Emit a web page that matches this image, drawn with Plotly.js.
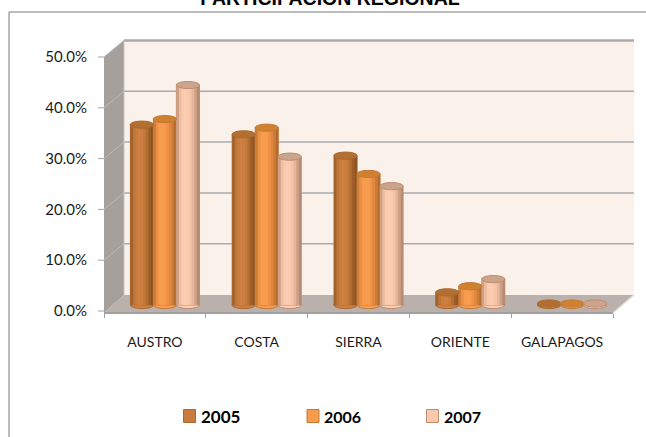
<!DOCTYPE html>
<html><head><meta charset="utf-8">
<script src="https://cdn.plot.ly/plotly-3.0.1.min.js"></script>
<style>html,body{margin:0;padding:0;background:#fff}#c{width:646px;height:437px}</style>
</head><body><div id="c"></div>
<script>
var categories = ['AUSTRO','COSTA','SIERRA','ORIENTE','GALAPAGOS'];
var years = ['2005','2006','2007'];
var v2005 = [35.5, 33.6, 29.4, 2.5, 0.3];
var v2006 = [36.6, 34.9, 25.8, 3.7, 0.3];
var v2007 = [43.3, 29.2, 23.4, 5.1, 0.3];
var yTicks = [0,10,20,30,40,50];

var W=646,H=437,L=104,R=613,T=57,B=313;
var px=function(x){return (x-L)/(R-L);};
var py=function(y){return (B-y)/(B-T);};
var catW=(R-L)/5, barW=23/catW, groupOff=-24.5/catW;
var values=[v2005,v2006,v2007];
var base=['#C97B3D','#F79B4C','#FBC9AD'];
var edge=['#A9692F','#C27A38','#C08C6C'];
var cap=['#B36F30','#D0812F','#CBA48E'];
var strips=[
 ['#A1622B','#BC7536','#CB7D3F','#CF8145','#CD7F40','#C4793A','#B26D31','#9C5D28','#8E5323'],
 ['#CC7D38','#EB9146','#F79B4C','#F99E50','#F79B4C','#EE9247','#E0883F','#CC7C36','#B46C2E'],
 ['#D0A187','#EDBDA2','#FACAAE','#FCCDB2','#FBCBB0','#F4C3A8','#E6B59B','#CFA088','#B78B72']
];
var traces=[],shapes=[],annotations=[];
function poly(pts,fill,line,lw){
  var d=pts.map(function(p,i){return (i?'L':'M')+px(p[0])+' '+py(p[1]);}).join(' ')+' Z';
  shapes.push({type:'path',xref:'paper',yref:'paper',path:d,fillcolor:fill,line:{color:line||fill,width:lw||0},layer:'below'});
}
function seg(x0,y0,x1,y1,c,w){
  shapes.push({type:'line',xref:'paper',yref:'paper',x0:px(x0),y0:py(y0),x1:px(x1),y1:py(y1),line:{color:c,width:w},layer:'below'});
}
// chart frame
seg(9,12,646,12,'#A6A6A6',1.5);
seg(9,12,9,437,'#A6A6A6',1.5);
// walls
poly([[124,40],[634,40],[634,295],[124,295]],'#FBF1EB');
poly([[104,57],[124,40],[124,295],[104,313]],'#A5A09C');
poly([[104,313],[124,295],[634,295],[613,313]],'#BBB1AC');
yTicks.forEach(function(t){
  var yb=294.5-t*5.08, yf=311-t*5.08;
  if(t>0) seg(104,yf,124,yb,'#BDB9B5',1);
  if(t>0) seg(124,yb,634,yb,'#ABABAB',t==50?2.5:1.5);
});
seg(124,40,124,295,'#C9C5C2',1);
seg(104,313,613,313,'#A0A0A0',2);
seg(613,313,634,295,'#E4E0DD',1.5);
yTicks.forEach(function(t){ seg(98,311-t*5.08,104,311-t*5.08,'#A0A0A0',1); });

// keeps the visible percentage axis attached to the plot
traces.push({type:'scatter',x:categories,y:v2005,mode:'none',showlegend:false,hoverinfo:'skip'});

values.forEach(function(vals,s){
  var off=groupOff+s*barW;
  traces.push({type:'bar',x:categories,y:vals,yaxis:'y2',name:years[s],width:barW,offset:off,
    marker:{color:base[s],line:{color:edge[s],width:1}},hoverinfo:'x+y',showlegend:false});
  var n=strips[s].length;
  strips[s].forEach(function(c,k){
    traces.push({type:'bar',x:categories,y:vals,yaxis:'y2',width:barW/n*1.06,offset:off+k*barW/n,
      marker:{color:c,line:{width:0}},hoverinfo:'skip',showlegend:false});
  });
  vals.forEach(function(v,i){
    var x0=i+off-0.002, x1=i+off+barW+0.002, h=3.6/5.08;
    shapes.push({type:'circle',xref:'x',yref:'y2',x0:x0,x1:x1,y0:-h,y1:h,fillcolor:strips[s][3],line:{color:edge[s],width:1},layer:'below'});
    shapes.push({type:'circle',xref:'x',yref:'y2',x0:x0,x1:x1,y0:v-h,y1:v+h,fillcolor:cap[s],line:{color:edge[s],width:1},layer:'above'});
  });
});

// legend keys and labels
var keyX=[183.5,307,426.5], textX=[200,323,443], keySize=[17,16,16];
years.forEach(function(y,s){
  shapes.push({type:'rect',xref:'paper',yref:'paper',x0:px(keyX[s]),x1:px(keyX[s]+12),y0:py(409.5),y1:py(422.5),
    fillcolor:base[s],line:{color:edge[s],width:1},layer:'above'});
  annotations.push({xref:'paper',yref:'paper',x:px(textX[s]),y:py(416),xanchor:'left',yanchor:'middle',showarrow:false,
    text:'<b>'+y+'</b>',xshift:-1,font:{family:'Lato',size:keySize[s],color:'#000'}});
});

var layout={
  width:W,height:H,autosize:false,paper_bgcolor:'#fff',plot_bgcolor:'rgba(0,0,0,0)',
  margin:{l:L,r:W-R,t:T,b:H-B,pad:0},
  barmode:'overlay',showlegend:false,
  title:{text:'PARTICIPACION REGIONAL',font:{family:'Liberation Sans',size:19.5,color:'#000',weight:700},
    x:330/W,xanchor:'center',y:1-5/H,yanchor:'bottom',yref:'container'},
  font:{family:'Lato',color:'#1a1a1a',size:14},
  xaxis:{type:'category',categories:categories,categoryorder:'array',categoryarray:categories,range:[-0.5,4.5],
    tickson:'boundaries',ticks:'outside',ticklen:4,tickcolor:'#A0A0A0',tickwidth:1,showgrid:false,zeroline:false,showline:false,
    tickfont:{family:'Lato',size:14,color:'#1a1a1a'},ticklabelstandoff:19,fixedrange:true},
  yaxis:{range:[-0.4,50],tickvals:yTicks,ticktext:yTicks.map(function(t){return t.toFixed(1)+'%';}),
    ticks:'',showgrid:false,zeroline:false,showline:false,tickfont:{family:'Lato',size:15,color:'#1a1a1a'},ticklabelstandoff:16,fixedrange:true},
  yaxis2:{overlaying:'y',range:[-1.575,48.82],visible:false,fixedrange:true},
  shapes:shapes,annotations:annotations
};
Plotly.newPlot('c',traces,layout,{displayModeBar:false,responsive:false});
</script></body></html>
